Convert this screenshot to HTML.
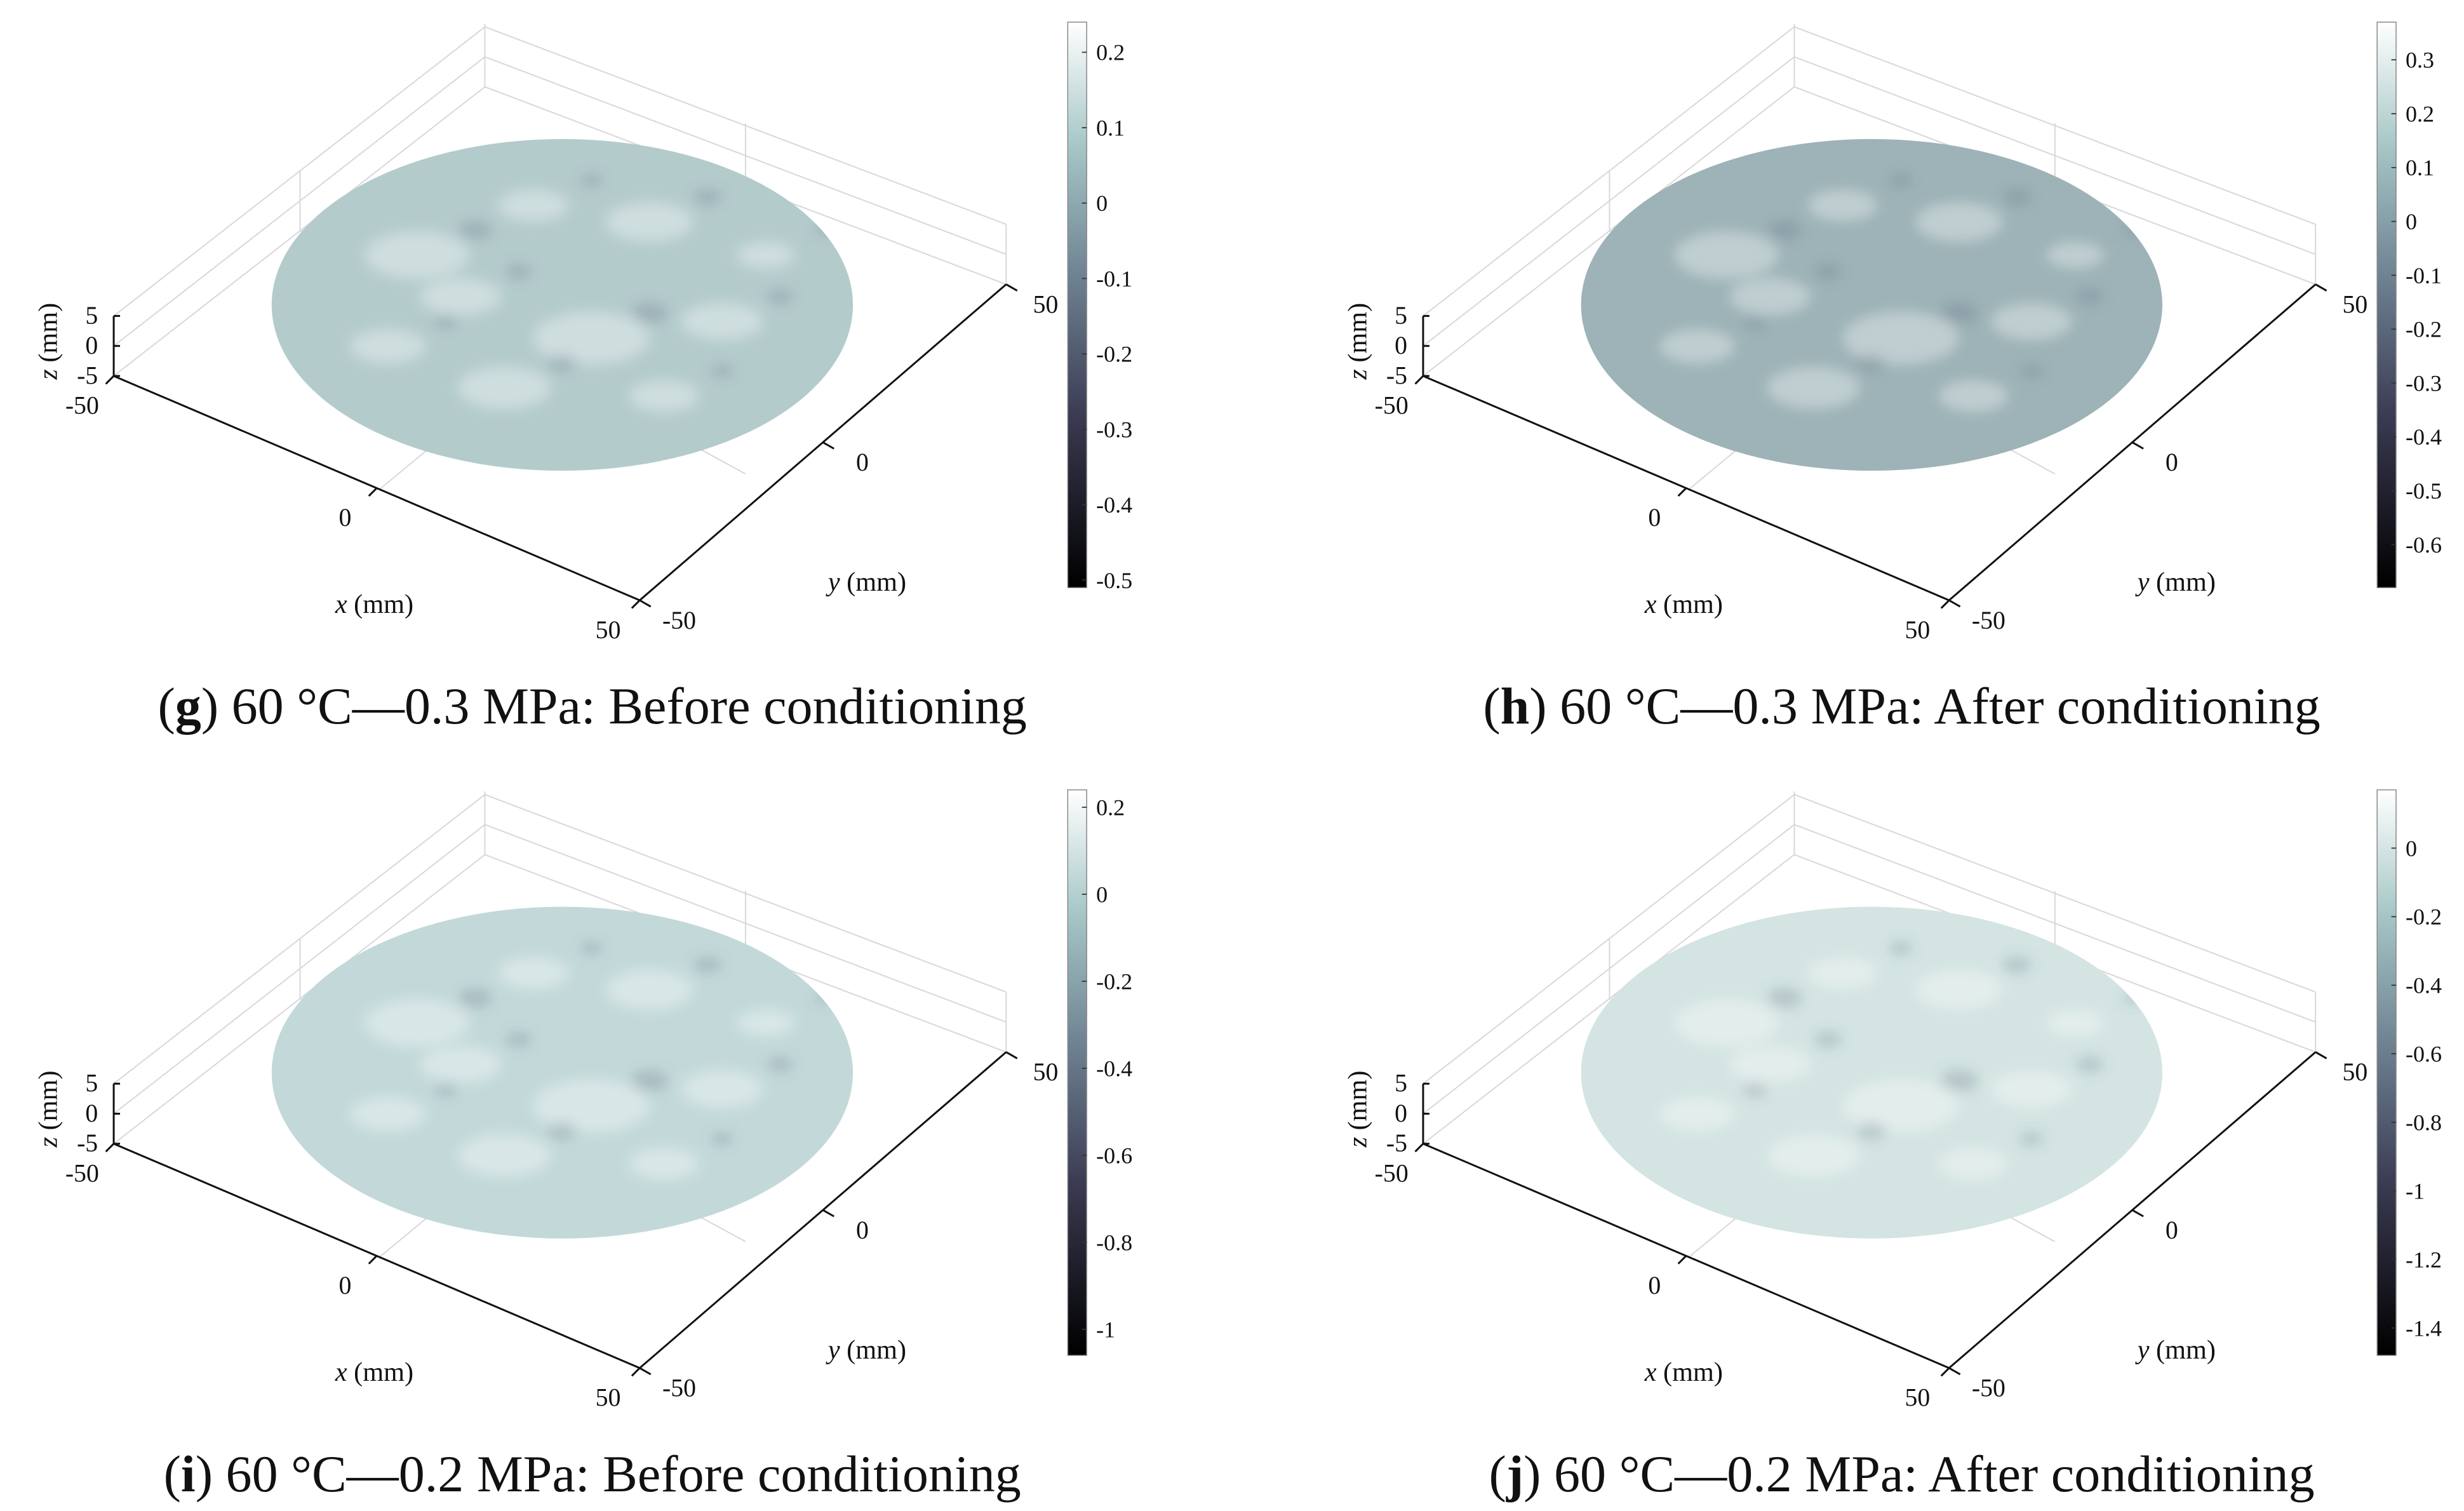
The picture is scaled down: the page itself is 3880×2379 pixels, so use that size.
<!DOCTYPE html>
<html><head><meta charset="utf-8">
<style>
html,body{margin:0;padding:0;background:#fff;}
svg{display:block;}
text{font-family:"Liberation Serif",serif;fill:#111;}
</style></head>
<body>
<svg id="fig" width="3880" height="2379" viewBox="0 0 1560 956.5" xmlns="http://www.w3.org/2000/svg">
<defs>
<linearGradient id="cmG" x1="0" y1="1" x2="0" y2="0">
<stop offset="0" stop-color="#000"/><stop offset="0.3" stop-color="#3a3a52"/><stop offset="0.55" stop-color="#6e8292"/><stop offset="0.78" stop-color="#a6c6c6"/><stop offset="1" stop-color="#fff"/>
</linearGradient>
<filter id="blur4"><feGaussianBlur stdDeviation="4"/></filter>
</defs>
</svg>
<script>
const panelIds = ['g','h','i','j'];
const captionBold = ['g','h','i','j'];
const captionText = [' 60 °C—0.3 MPa: Before conditioning',' 60 °C—0.3 MPa: After conditioning',' 60 °C—0.2 MPa: Before conditioning',' 60 °C—0.2 MPa: After conditioning'];
const cbarTicksG = [0.2,0.1,0,-0.1,-0.2,-0.3,-0.4,-0.5];
const cbarTicksH = [0.3,0.2,0.1,0,-0.1,-0.2,-0.3,-0.4,-0.5,-0.6];
const cbarTicksI = [0.2,0,-0.2,-0.4,-0.6,-0.8,-1];
const cbarTicksJ = [0,-0.2,-0.4,-0.6,-0.8,-1,-1.2,-1.4];
const cbarRanges = [[-0.51,0.24],[-0.68,0.37],[-1.06,0.24],[-1.48,0.17]];
const surfaceColors = ['#b4cbcc','#9db3b7','#c3d9d9','#d3e4e2'];
const xTicks = [-50,0,50];
const yTicks = [-50,0,50];
const zTicks = [5,0,-5];
const cbarTickSets = [cbarTicksG,cbarTicksH,cbarTicksI,cbarTicksJ];
const NS='http://www.w3.org/2000/svg';
const svg=document.getElementById('fig');
function mk(tag,attrs,parent){const e=document.createElementNS(NS,tag);for(const k in attrs)e.setAttribute(k,attrs[k]);(parent||svg).appendChild(e);return e;}
const offsets=[[0,0],[829,0],[0,486],[829,486]];
const blotches=[[-0.5,-0.3,0.18],[0.3,-0.5,0.15],[0.1,0.2,0.2],[-0.2,0.5,0.16],[0.55,0.1,0.14],[-0.6,0.25,0.13],[0.35,0.55,0.12],[-0.1,-0.6,0.12],[0.7,-0.3,0.1],[-0.35,-0.05,0.14]];
panelIds.forEach((id,p)=>{
  const [ox,oy]=offsets[p];
  const g=mk('g',{transform:`translate(${ox},${oy})`});
  
  
  const X0=[72,238], X1=[405,380], Y1=[637,180];
  const xPos=v=>{const t=(v+50)/100;return [X0[0]+(X1[0]-X0[0])*t, X0[1]+(X1[1]-X0[1])*t];};
  const yPos=v=>{const t=(v+50)/100;return [X1[0]+(Y1[0]-X1[0])*t, X1[1]+(Y1[1]-X1[1])*t];};
  const zPos=v=>238-(v+5)/10*38;
  const grid=mk('g',{stroke:'#d8d8d8','stroke-width':0.8,fill:'none'},g);
  
  
  zTicks.forEach(z=>{const dz=zPos(z)-238;mk('polyline',{points:`72,${238+dz} 307,${55+dz} 637,${180+dz}`},grid);});
  mk('line',{x1:307,y1:15,x2:307,y2:55},grid);
  mk('line',{x1:637,y1:142,x2:637,y2:180},grid);
  mk('line',{x1:190,y1:108,x2:190,y2:146},grid);
  mk('line',{x1:472,y1:78,x2:472,y2:118},grid);
  mk('line',{x1:190,y1:146,x2:472,y2:300},grid);
  mk('line',{x1:472,y1:118,x2:240,y2:310},grid);
  const s=mk('g',{},g);
  
  
  const cp=mk('clipPath',{id:'clip'+id},s);
  mk('ellipse',{cx:356,cy:193,rx:184,ry:105},cp);
  mk('ellipse',{cx:356,cy:193,rx:184,ry:105,fill:surfaceColors[p]},s);
  const tex=mk('g',{'clip-path':`url(#clip${id})`,filter:'url(#blur4)'},s);
  blotches.forEach((b,k)=>{
    mk('ellipse',{cx:356+b[0]*184,cy:193+b[1]*105,rx:b[2]*184,ry:b[2]*105*0.8,fill:'#ffffff',opacity:0.35},tex);
    mk('ellipse',{cx:356+(b[0]+0.2)*184,cy:193+(b[1]-0.15)*105,rx:b[2]*60,ry:b[2]*35,fill:'#5a6680',opacity:0.25},tex);
  });
  const ax=mk('g',{stroke:'#111','stroke-width':1.2,fill:'none'},g);
  
  
  mk('line',{x1:X0[0],y1:X0[1],x2:X1[0],y2:X1[1]},ax);
  mk('line',{x1:X1[0],y1:X1[1],x2:Y1[0],y2:Y1[1]},ax);
  mk('line',{x1:72,y1:zPos(5),x2:72,y2:zPos(-5)},ax);
  xTicks.forEach(v=>{const [x,y]=xPos(v);mk('line',{x1:x,y1:y,x2:x-5,y2:y+5},ax);
    const t=mk('text',{x:x-20,y:y+24,'font-size':16,'text-anchor':'middle'},g);t.textContent=v;
    });
  yTicks.forEach(v=>{const [x,y]=yPos(v);mk('line',{x1:x,y1:y,x2:x+7,y2:y+4},ax);
    const t=mk('text',{x:x+25,y:y+18,'font-size':16,'text-anchor':'middle'},g);t.textContent=v;
    });
  zTicks.forEach(v=>{const y=zPos(v);mk('line',{x1:72,y1:y,x2:76,y2:y},ax);
    const t=mk('text',{x:62,y:y+5,'font-size':16,'text-anchor':'end'},g);t.textContent=v;
    });
  let t=mk('text',{x:237,y:388,'font-size':17,'text-anchor':'middle'},g);
  t.innerHTML='<tspan font-style="italic">x</tspan> (mm)';
  
  t=mk('text',{x:549,y:374,'font-size':17,'text-anchor':'middle'},g);
  t.innerHTML='<tspan font-style="italic">y</tspan> (mm)';
  
  t=mk('text',{x:0,y:0,'font-size':17,'text-anchor':'middle',transform:'translate(36,216) rotate(-90)'},g);
  t.innerHTML='<tspan font-style="italic">z</tspan> (mm)';
  
  const cb=mk('g',{},g);
  
  
  const top=14,bot=372,[lo,hi]=cbarRanges[p];
  const cy=v=>bot-(v-lo)/(hi-lo)*(bot-top);
  mk('rect',{x:676,y:top,width:12,height:bot-top,fill:'url(#cmG)',stroke:'#888','stroke-width':0.6},cb);
  cbarTickSets[p].forEach(v=>{const y=cy(v);
    mk('line',{x1:688,y1:y,x2:685,y2:y,stroke:'#333','stroke-width':0.7},cb);
    const tt=mk('text',{x:694,y:y+5,'font-size':14.5},cb);tt.textContent=v;
    });
  t=mk('text',{x:375,y:458,'font-size':33,'text-anchor':'middle'},g);
  t.innerHTML='(<tspan font-weight="bold">'+captionBold[p]+'</tspan>)'+captionText[p];
  
});
</script>
</body></html>
